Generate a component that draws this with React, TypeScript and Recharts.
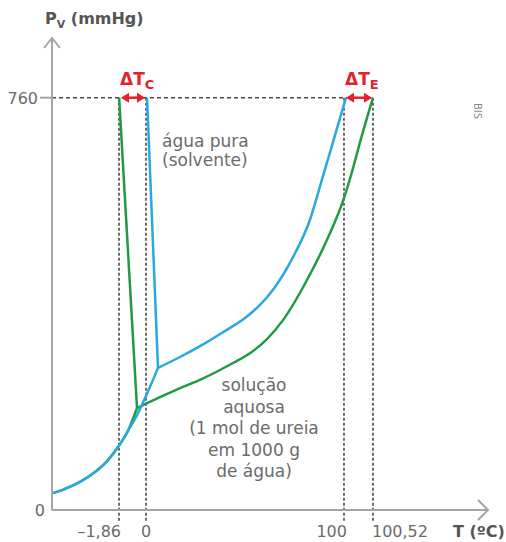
import { ComposedChart, Line, XAxis, YAxis, ReferenceLine, ReferenceDot } from "recharts";

type Pt = { t: number; p: number };

// eixo T fora de escala: t = posição esquemática (0–100) ao longo do eixo
const tTicks = [15.37, 21.56, 66.97, 73.62];
const tTickLabels = ["–1,86", "0", "100", "100,52"];
const pTicks = [0, 760];
const pTop = 870;

// água pura (solvente)
const pureSublimation: Pt[] = [
  { t: 0.23, p: 31 }, { t: 2.98, p: 39 }, { t: 6.42, p: 52 }, { t: 9.86, p: 70 },
  { t: 12.84, p: 92 }, { t: 15.14, p: 116 }, { t: 17.43, p: 146 }, { t: 19.5, p: 175 },
  { t: 20.64, p: 194 }, { t: 22.48, p: 227 }, { t: 24.31, p: 262 },
];
const pureFusion: Pt[] = [{ t: 24.31, p: 262 }, { t: 21.8, p: 760 }];
const pureVapor: Pt[] = [
  { t: 24.31, p: 262 }, { t: 29.36, p: 282 }, { t: 33.94, p: 302 }, { t: 39.68, p: 330 },
  { t: 44.27, p: 354 }, { t: 47.71, p: 378 }, { t: 50.69, p: 406 }, { t: 55.28, p: 466 },
  { t: 59.17, p: 535 }, { t: 61.7, p: 603 }, { t: 64.45, p: 678 }, { t: 67.43, p: 760 },
];

// solução aquosa
const solSublimation: Pt[] = [
  { t: 0.23, p: 31 }, { t: 2.98, p: 39 }, { t: 6.42, p: 52 }, { t: 9.86, p: 70 },
  { t: 12.84, p: 92 }, { t: 15.14, p: 116 }, { t: 17.43, p: 146 }, { t: 19.5, p: 188 },
];
const solFusion: Pt[] = [{ t: 19.5, p: 188 }, { t: 15.4, p: 760 }];
const solVapor: Pt[] = [
  { t: 19.5, p: 188 }, { t: 24.77, p: 208 }, { t: 30.05, p: 227 }, { t: 33.94, p: 240 },
  { t: 41.51, p: 271 }, { t: 45.41, p: 289 }, { t: 49.31, p: 315 }, { t: 52.98, p: 350 },
  { t: 58.49, p: 424 }, { t: 63.07, p: 498 }, { t: 66.97, p: 575 }, { t: 68.58, p: 617 },
  { t: 71.1, p: 691 }, { t: 73.62, p: 760 },
];

const BLUE = "#2aa8e0";
const GREEN = "#229a44";
const RED = "#e4202a";
const AXIS = "#a5a5a5";
const TEXT = "#6b6b6b";
const FONT = "DejaVu Sans";

const XTick = ({ x, y, payload }: any) => {
  const i = tTicks.indexOf(payload.value);
  const anchors = ["end", "middle", "end", "start"];
  const dxs = [2, 0, 3, -1];
  return (
    <text x={x + dxs[i]} y={y + 27} textAnchor={anchors[i]} fontSize={16} fill={TEXT} fontFamily={FONT}>
      {tTickLabels[i]}
    </text>
  );
};

const YTick = ({ x, y, payload }: any) =>
  payload.value === 0 ? (
    <text x={x - 7} y={y + 6} textAnchor="end" fontSize={16} fill={TEXT} fontFamily={FONT}>0</text>
  ) : (
    <g>
      <line x1={x - 12} x2={x} y1={y} y2={y} stroke={AXIS} strokeWidth={2} />
      <text x={x - 14} y={y + 6} textAnchor="end" fontSize={16} fill={TEXT} fontFamily={FONT}>
        {payload.value}
      </text>
    </g>
  );

const deltaArrow = (sub: string) => (props: any) => {
  const { x1, x2, y1 } = props;
  const a = x1 + 2;
  const b = x2 - 1;
  return (
    <g>
      <line x1={a + 6} x2={b - 6} y1={y1} y2={y1} stroke={RED} strokeWidth={2.5} />
      <path d={`M${a},${y1}L${a + 8},${y1 - 5}L${a + 8},${y1 + 5}Z`} fill={RED} />
      <path d={`M${b},${y1}L${b - 8},${y1 - 5}L${b - 8},${y1 + 5}Z`} fill={RED} />
      <text x={x1 + 1} y={y1 - 13} fontSize={17} fontWeight="bold" fill={RED} fontFamily={FONT}>
        ΔT<tspan fontSize={13} dy={4}>{sub}</tspan>
      </text>
    </g>
  );
};

export default function App() {
  const lineProps = { dataKey: "p", dot: false, isAnimationActive: false, strokeWidth: 2.5 };
  return (
    <>
      <style>{"body{margin:0}"}</style>
      <ComposedChart width={506} height={542} margin={{ top: 38, right: 18, bottom: 12, left: 32 }}>
        <XAxis
          dataKey="t"
          type="number"
          domain={[0, 100]}
          ticks={tTicks}
          interval={0}
          height={20}
          tickSize={0}
          tickMargin={0}
          tickLine={false}
          tick={<XTick />}
          axisLine={{ stroke: AXIS, strokeWidth: 2 }}
          allowDataOverflow
        />
        <YAxis
          type="number"
          domain={[0, pTop]}
          ticks={pTicks}
          interval={0}
          width={20}
          tickSize={0}
          tickMargin={0}
          tickLine={false}
          tick={<YTick />}
          axisLine={{ stroke: AXIS, strokeWidth: 2 }}
          allowDataOverflow
        />

        {tTicks.map((t) => (
          <ReferenceLine
            key={t}
            segment={[{ x: t, y: 760 }, { x: t, y: -22 }]}
            stroke="#4a4a4a"
            strokeWidth={1.6}
            strokeDasharray="3 2"
            ifOverflow="visible"
          />
        ))}
        <ReferenceLine
          segment={[{ x: 0, y: 760 }, { x: tTicks[3], y: 760 }]}
          stroke="#4a4a4a"
          strokeWidth={1.6}
          strokeDasharray="4 3"
          ifOverflow="visible"
        />

        <Line data={solSublimation} type="monotone" stroke={GREEN} {...lineProps} />
        <Line data={solFusion} type="linear" stroke={GREEN} {...lineProps} />
        <Line data={solVapor} type="monotone" stroke={GREEN} {...lineProps} />
        <Line data={pureSublimation} type="monotone" stroke={BLUE} {...lineProps} />
        <Line data={pureFusion} type="linear" stroke={BLUE} {...lineProps} />
        <Line data={pureVapor} type="monotone" stroke={BLUE} {...lineProps} />

        <ReferenceLine
          segment={[{ x: tTicks[0], y: 760 }, { x: tTicks[1], y: 760 }]}
          ifOverflow="visible"
          shape={deltaArrow("C")}
        />
        <ReferenceLine
          segment={[{ x: tTicks[2], y: 760 }, { x: tTicks[3], y: 760 }]}
          ifOverflow="visible"
          shape={deltaArrow("E")}
        />

        <ReferenceDot
          x={0}
          y={pTop}
          r={0}
          ifOverflow="visible"
          shape={(p: any) => (
            <g>
              <path d={`M${p.cx - 8},${p.cy + 10}L${p.cx},${p.cy}L${p.cx + 8},${p.cy + 10}`} fill="none" stroke={AXIS} strokeWidth={2} />
              <text x={p.cx - 7} y={p.cy - 14} fontSize={16} fontWeight="bold" fill="#555" fontFamily={FONT}>
                P<tspan fontSize={11} dy={4}>V</tspan>
                <tspan dy={-4}> (mmHg)</tspan>
              </text>
            </g>
          )}
        />
        <ReferenceDot
          x={100}
          y={0}
          r={0}
          ifOverflow="visible"
          shape={(p: any) => (
            <g>
              <path d={`M${p.cx - 10},${p.cy - 10}L${p.cx},${p.cy}L${p.cx - 10},${p.cy + 10}`} fill="none" stroke={AXIS} strokeWidth={2} />
              <text x={p.cx - 35} y={p.cy + 27} fontSize={16} fontWeight="bold" fill="#555" fontFamily={FONT}>
                T (ºC)
              </text>
            </g>
          )}
        />

        <text fontSize={17} fill={TEXT} fontFamily={FONT}>
          <tspan x={162} y={147}>água pura</tspan>
          <tspan x={162} y={166}>(solvente)</tspan>
        </text>
        <text fontSize={17} fill={TEXT} fontFamily={FONT} textAnchor="middle">
          <tspan x={254} y={391}>solução</tspan>
          <tspan x={254} y={413}>aquosa</tspan>
          <tspan x={254} y={434}>(1 mol de ureia</tspan>
          <tspan x={254} y={456}>em 1000 g</tspan>
          <tspan x={254} y={477}>de água)</tspan>
        </text>
        <text x={474} y={103} fontSize={10} fill="#888" fontFamily={FONT} transform="rotate(90 474 103)">
          BIS
        </text>
      </ComposedChart>
    </>
  );
}
